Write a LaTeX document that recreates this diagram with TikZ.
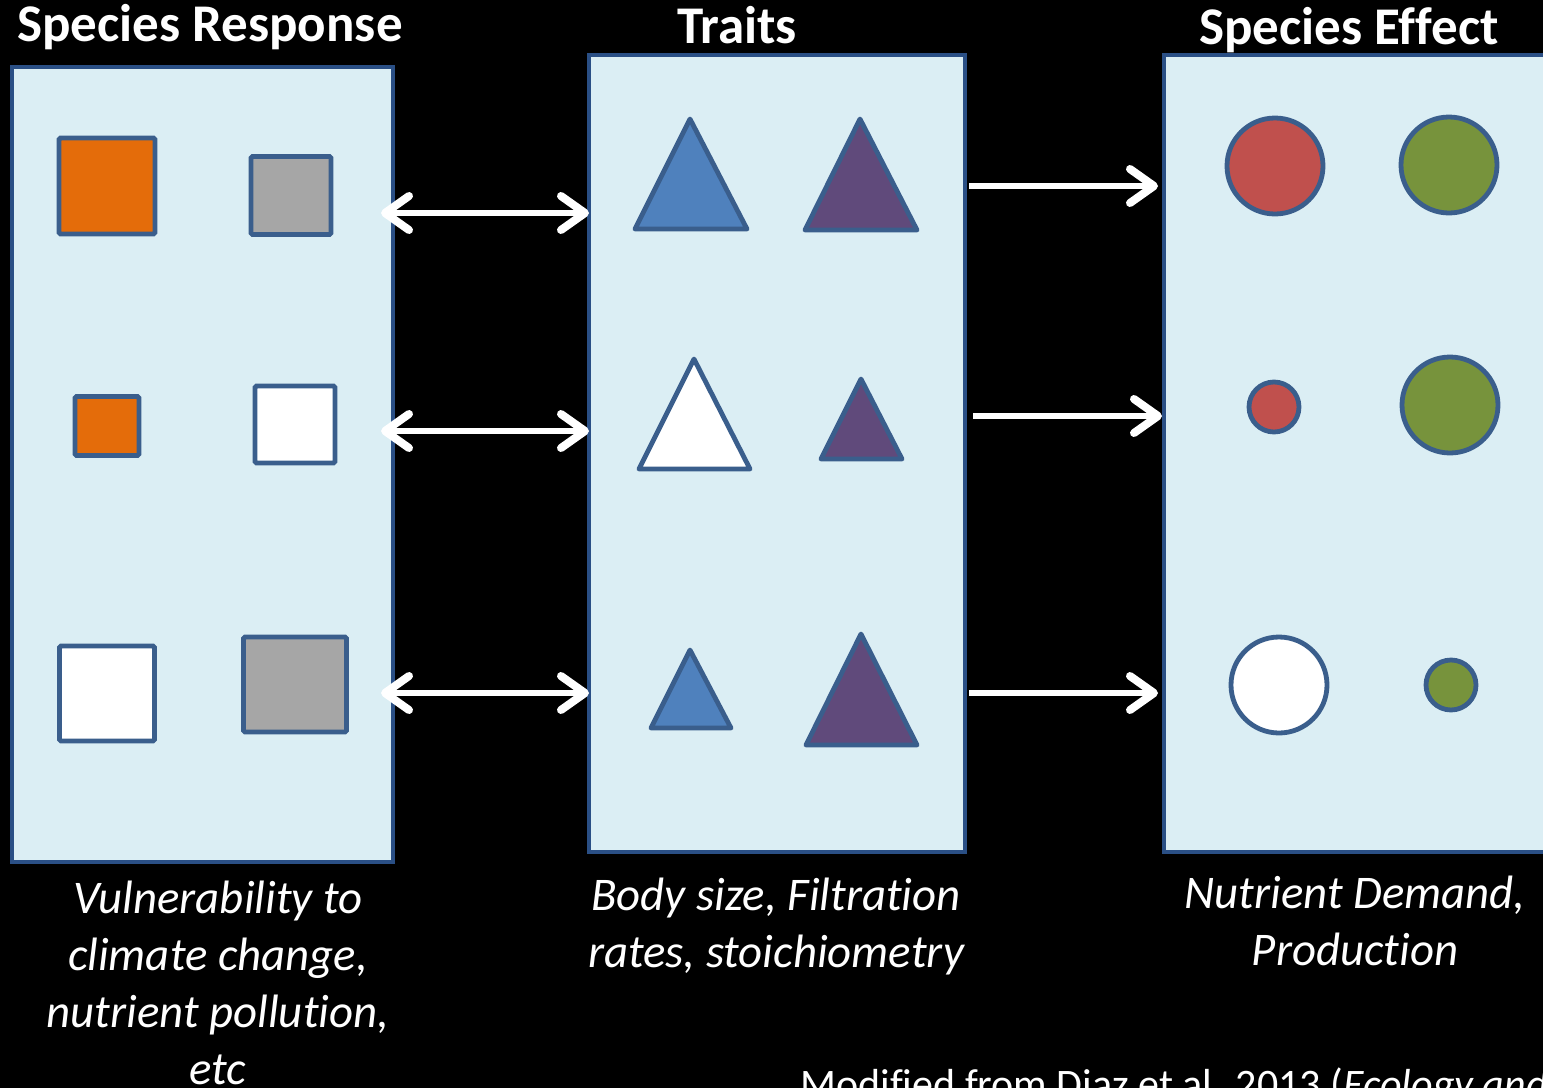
\documentclass[tikz,border=0pt]{standalone}
\usepackage{fontspec}
\setmainfont[Ligatures={NoCommon}]{Carlito}
\usetikzlibrary{arrows.meta,calc}
\definecolor{boxfill}{HTML}{DBEEF4}
\definecolor{boxline}{HTML}{2A4F85}
\definecolor{shline}{HTML}{3A5E8C}
\definecolor{cOrange}{HTML}{E46C0A}
\definecolor{cGray}{HTML}{A6A6A6}
\definecolor{cBlue}{HTML}{4F81BD}
\definecolor{cPurple}{HTML}{604A7B}
\definecolor{cRed}{HTML}{C0504D}
\definecolor{cGreen}{HTML}{77933C}
\tikzset{
  panel/.style={draw=boxline, fill=boxfill, line width=2pt, inner sep=0pt, rectangle},
  sq/.style={draw=shline, line width=2.4pt, rounded corners=0.8pt, inner sep=0pt, rectangle},
  tri/.style={draw=shline, line width=2.4pt, line join=round},
  circ/.style={draw=shline, line width=2.4pt},
  title/.style={text=white, font=\fontsize{26.5}{30}\selectfont\bfseries, inner sep=0pt},
  caption/.style={text=white, font=\fontsize{23.4}{28.5}\selectfont\itshape, align=center, inner sep=0pt},
  barb/.tip={Straight Barb[length=12pt, width=17pt, line width=4pt, line cap=round, line join=round]},
  arr/.style={draw=white, line width=3.2pt, -barb},
  dbl/.style={draw=white, line width=3.2pt, barb-barb}
}
\begin{document}
\begin{tikzpicture}[x=0.5pt, y=-0.5pt]
\fill[black] (0,0) rectangle (1543,1088);
\useasboundingbox (0,0) rectangle (1543,1088);
\clip (0,0) rectangle (1543,1088);

% panels
\node[panel, minimum width=190.5pt, minimum height=397.5pt] (lb) at (202.5,464.5) {};
\node[panel, minimum width=188pt, minimum height=398.5pt] (mb) at (777,453.5) {};
\node[panel, minimum width=200pt, minimum height=398.5pt] (rb) at (1364,453.5) {};

% titles
\node[title] (t1) at (210,27) {Species Response};
\node[title] (t2) at (737,25) {Traits};
\node[title] (t3) at (1349,30) {Species Effect};

% squares
\node[sq, fill=cOrange, minimum width=48pt, minimum height=48pt] (s1) at (107,186) {};
\node[sq, fill=cGray, minimum width=40pt, minimum height=39pt] (s2) at (291,195.5) {};
\node[sq, fill=cOrange, minimum width=32pt, minimum height=29.5pt] (s3) at (107,426) {};
\node[sq, fill=white, minimum width=40pt, minimum height=38.5pt] (s4) at (295,424.5) {};
\node[sq, fill=white, minimum width=47.5pt, minimum height=47.5pt] (s5) at (107,693.5) {};
\node[sq, fill=cGray, minimum width=51.5pt, minimum height=47.5pt] (s6) at (295,684.5) {};

% triangles
\draw[tri, fill=cBlue] (690,119) -- (747,229) -- (635,229) -- cycle;
\draw[tri, fill=cPurple] (860,119) -- (917,230) -- (805,230) -- cycle;
\draw[tri, fill=white] (694,359) -- (750,469) -- (639,469) -- cycle;
\draw[tri, fill=cPurple] (861,379) -- (902,459) -- (821,459) -- cycle;
\draw[tri, fill=cBlue] (690,650) -- (731,728) -- (651,728) -- cycle;
\draw[tri, fill=cPurple] (861,634) -- (917,745) -- (806,745) -- cycle;

% circles
\draw[circ, fill=cRed] (1275,166) circle[radius=24pt];
\draw[circ, fill=cGreen] (1449,165) circle[radius=24pt];
\draw[circ, fill=cRed] (1274,407) circle[radius=12.5pt];
\draw[circ, fill=cGreen] (1450,405) circle[radius=24pt];
\draw[circ, fill=white] (1279,685) circle[radius=24pt];
\draw[circ, fill=cGreen] (1451,685) circle[radius=12.5pt];

% arrows
\coordinate (r1) at (0,213);
\coordinate (r2) at (0,431);
\coordinate (r3) at (0,693);
\draw[dbl] ($(lb.east|-r1)+(-14,0)$) -- ($(mb.west|-r1)+(2,0)$);
\draw[dbl] ($(lb.east|-r2)+(-14,0)$) -- ($(mb.west|-r2)+(2,0)$);
\draw[dbl] ($(lb.east|-r3)+(-14,0)$) -- ($(mb.west|-r3)+(2,0)$);
\coordinate (q1) at (0,186);
\coordinate (q2) at (0,416);
\coordinate (q3) at (0,693);
\draw[arr] ($(mb.east|-q1)+(2,0)$) -- ($(rb.west|-q1)+(-4,0)$);
\draw[arr] ($(mb.east|-q2)+(6,0)$) -- ($(rb.west|-q2)+(0,0)$);
\draw[arr] ($(mb.east|-q3)+(2,0)$) -- ($(rb.west|-q3)+(-4,0)$);

% captions
\node[caption, anchor=north] (c1) at (218,881) {Vulnerability to\\climate change,\\nutrient pollution,\\etc};
\node[caption, anchor=north] (c2) at (776,878) {Body size, Filtration\\rates, stoichiometry};
\node[caption, anchor=north] (c3) at (1355,876) {Nutrient Demand,\\Production};

\node[text=white, font=\fontsize{21}{24}\selectfont, anchor=base west, inner sep=0pt] (src) at (800,1098) {Modified from Diaz et al. 2013 (\textit{Ecology and}};
\end{tikzpicture}
\end{document}
